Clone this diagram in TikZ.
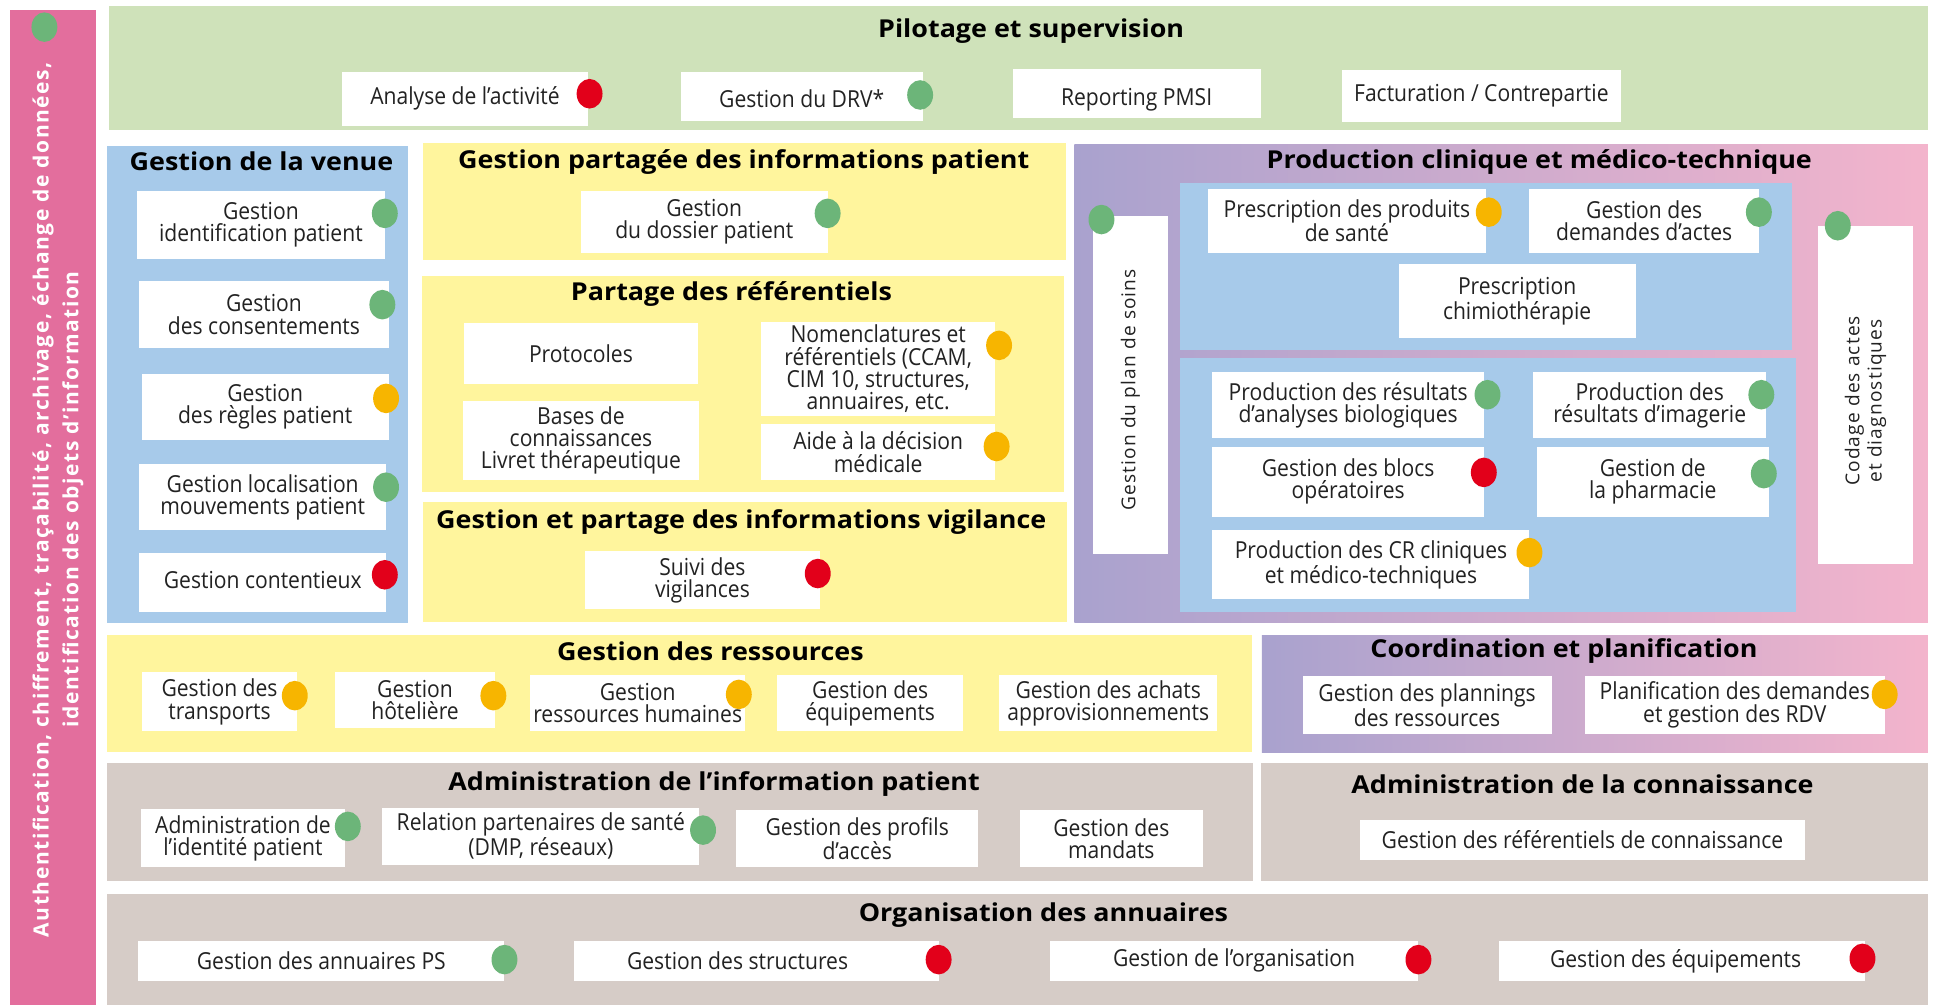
\documentclass[tikz,border=0pt]{standalone}
\usepackage{fontspec}
\usetikzlibrary{shapes.geometric}
\newfontfamily\bodyfont[FakeStretch=0.9]{Open Sans}
\newfontfamily\headfont[FakeStretch=1.09]{Open Sans}
\newfontfamily\sidefont[LetterSpace=6]{Open Sans}
\newfontfamily\sidefontb[LetterSpace=7.5]{Open Sans}
\definecolor{pinkbar}{HTML}{E36E9D}
\definecolor{lgreen}{HTML}{CFE2BA}
\definecolor{lblue}{HTML}{A7CAEA}
\definecolor{lyellow}{HTML}{FFF59D}
\definecolor{lgray}{HTML}{D6CCC7}
\definecolor{lav}{HTML}{A9A2CE}
\definecolor{pnk}{HTML}{F3B4CC}
\definecolor{dgreen}{HTML}{6CB579}
\definecolor{dorange}{HTML}{F7B500}
\definecolor{dred}{HTML}{E2001A}
\definecolor{txt}{HTML}{222222}
\tikzset{
  wbox/.style={fill=white, inner sep=0.5pt, align=center, text=txt,
    font=\bodyfont\fontsize{19}{18}\selectfont},
  wtext/.style={inner sep=0.5pt, align=center, text=txt,
    font=\bodyfont\fontsize{19}{18}\selectfont},
  dot/.style={ellipse, minimum width=21pt, minimum height=24pt, inner sep=0pt},
  gdot/.style={dot, fill=dgreen},
  odot/.style={dot, fill=dorange},
  rdot/.style={dot, fill=dred},
  ttl/.style={inner sep=0pt, text=black, font=\headfont\bfseries\fontsize{20}{22}\selectfont},
  vtext/.style={fill=white, inner sep=0pt, align=center, text=txt, rotate=90,
    font=\sidefont\fontsize{15.5}{18}\selectfont},
}
\newcommand\wbx[6]{%
  \pgfmathsetmacro\cx{(#2+#4)/2}\pgfmathsetmacro\cy{(#3+#5)/2}%
  \pgfmathsetmacro\ww{#4-#2}\pgfmathsetmacro\hh{#5-#3}%
  \node[wbox, minimum width=\ww pt, minimum height=\hh pt] (#1) at (\cx,\cy) {#6};}
\begin{document}
\begin{tikzpicture}[x=1pt, y=-1pt]
\useasboundingbox[fill=white] (0,0) rectangle (1568,816.5);

% left bar
\fill[pinkbar] (8,8) rectangle (78,815);
\node[rotate=90, align=center, text=white, inner sep=0pt,
  font=\sidefontb\bfseries\fontsize{17}{24}\selectfont] (auth) at (47,405)
  {Authentification, chiffrement, traçabilité, archivage, échange de données,\\identification des objets d’information};
\node[gdot] (d-auth) at (36,22) {};

% Pilotage
\fill[lgreen] (88,5) rectangle (1563,105);
\node[ttl] (t-pil) at (836,25) {Pilotage et supervision};
\wbx{analyse}{277}{58}{477}{102}{Analyse de l’activité}
\node[rdot] (d-analyse) at (478,76) {};
\wbx{drv}{552}{58}{748}{98}{}
\node[wtext] (drv-t) at ([yshift=-2pt]drv.center) {Gestion du DRV*};
\node[gdot] (d-drv) at (746,77) {};
\wbx{pmsi}{821}{56}{1022}{96}{}
\node[wtext] (pmsi-t) at ([yshift=-5pt]pmsi.center) {Reporting PMSI};
\wbx{fact}{1088}{57}{1314}{99}{Facturation / Contrepartie}

% Gestion de la venue
\fill[lblue] (87,118) rectangle (331,505);
\node[ttl] (t-venue) at (212,131) {Gestion de la venue};
\wbx{ident}{111}{155}{312}{210}{Gestion\\identification patient}
\node[gdot] (d-ident) at (312,173) {};
\wbx{consent}{113}{228}{315}{282}{Gestion\\des consentements}
\node[gdot] (d-consent) at (310,247) {};
\wbx{regles}{115}{303}{315}{357}{Gestion\\des règles patient}
\node[odot] (d-regles) at (313,323) {};
\wbx{local}{113}{376}{313}{430}{Gestion localisation\\mouvements patient}
\node[gdot] (d-local) at (313,395) {};
\wbx{content}{113}{448}{313}{496}{}
\node[wtext] (content-t) at ([yshift=2pt]content.center) {Gestion contentieux};
\node[rdot] (d-content) at (312,466) {};

% Gestion partagee
\fill[lyellow] (343,116) rectangle (864,211);
\node[ttl] (t-partagee) at (603,131) {Gestion partagée des informations patient};
\wbx{dossier}{471}{155}{671}{205}{Gestion\\du dossier patient}
\node[gdot] (d-dossier) at (671,173) {};

% Partage des referentiels
\fill[lyellow] (342,224) rectangle (863,399);
\node[ttl] (t-ref) at (593,238) {Partage des référentiels};
\wbx{proto}{376}{262}{566}{311}{Protocoles}
\wbx{bases}{375}{325}{567}{389}{Bases de\\connaissances\\Livret thérapeutique}
\wbx{nomen}{617}{261}{807}{337}{Nomenclatures et\\référentiels (CCAM,\\CIM 10, structures,\\annuaires, etc.}
\node[odot] (d-nomen) at (810,280) {};
\wbx{aide}{617}{344}{807}{389}{Aide à la décision\\médicale}
\node[odot] (d-aide) at (808,362) {};

% Vigilance
\fill[lyellow] (343,407) rectangle (865,504);
\node[ttl] (t-vigil) at (601,423) {Gestion et partage des informations vigilance};
\wbx{suivi}{474}{447}{665}{494}{Suivi des\\vigilances}
\node[rdot] (d-suivi) at (663,465) {};

% Production clinique
\shade[left color=lav, right color=pnk] (871,117) rectangle (1563,505);
\node[ttl] (t-prod) at (1248,131) {Production clinique et médico-technique};
\node[vtext, minimum width=274pt, minimum height=61pt] (plan) at (916.5,312) {\hspace*{-8pt}Gestion du plan de soins};
\node[gdot] (d-plan) at (893,178) {};
\fill[lblue] (957,148) rectangle (1453,284);
\fill[lblue] (957,290) rectangle (1456,496);
\wbx{presc}{979}{153}{1205}{205}{Prescription des produits\\de santé}
\node[odot] (d-presc) at (1207,172) {};
\wbx{demandes}{1240}{153}{1426}{205}{Gestion des\\demandes d’actes}
\node[gdot] (d-demandes) at (1426,172) {};
\wbx{chimio}{1134}{214}{1326}{274}{Prescription\\chimiothérapie}
\wbx{bio}{983}{302}{1203}{355}{Production des résultats\\d’analyses biologiques}
\node[gdot] (d-bio) at (1206,320) {};
\wbx{imag}{1243}{302}{1432}{355}{Production des\\résultats d’imagerie}
\node[gdot] (d-imag) at (1428,320) {};
\wbx{blocs}{983}{362}{1203}{419}{Gestion des blocs\\opératoires}
\node[rdot] (d-blocs) at (1203,383) {};
\wbx{pharma}{1246}{362}{1434}{419}{Gestion de\\la pharmacie}
\node[gdot] (d-pharma) at (1430,384) {};
\wbx{cr}{983}{430}{1240}{486}{Production des CR cliniques\\et médico-techniques}
\node[odot] (d-cr) at (1240,448) {};
\node[vtext, minimum width=274pt, minimum height=77pt] (codage) at (1512.5,320) {\hspace*{-10pt}Codage des actes\\\hspace*{-10pt}et diagnostiques};
\node[gdot] (d-codage) at (1490,183) {};

% Gestion des ressources
\fill[lyellow] (87,515) rectangle (1015,610);
\node[ttl] (t-res) at (576,528) {Gestion des ressources};
\wbx{transp}{115}{545}{241}{593}{Gestion des\\transports}
\node[odot] (d-transp) at (239,564) {};
\wbx{hotel}{272}{545}{401}{590}{Gestion\\hôtelière}
\node[odot] (d-hotel) at (400,564) {};
\wbx{rh}{430}{547}{604}{593}{Gestion\\ressources humaines}
\node[odot] (d-rh) at (599,563) {};
\wbx{equip}{630}{547}{781}{593}{Gestion des\\équipements}
\wbx{achats}{810}{547}{987}{593}{Gestion des achats\\approvisionnements}

% Coordination
\shade[left color=lav, right color=pnk] (1023,515) rectangle (1563,610);
\node[ttl] (t-coord) at (1268,528) {Coordination et planification};
\wbx{plannings}{1056}{548}{1258}{595}{Gestion des plannings\\des ressources}
\wbx{rdv}{1285}{548}{1528}{595}{Planification des demandes\\et gestion des RDV}
\node[odot] (d-rdv) at (1528,563) {};

% Administration info patient
\fill[lgray] (87,619) rectangle (1016,714);
\node[ttl] (t-adm) at (579,636) {Administration de l’information patient};
\wbx{identite}{114}{656}{280}{703}{Administration de\\l’identité patient}
\node[gdot] (d-identite) at (282,670) {};
\wbx{partn}{310}{655}{567}{701}{Relation partenaires de santé\\(DMP, réseaux)}
\node[gdot] (d-partn) at (570,673) {};
\wbx{profils}{597}{657}{793}{703}{Gestion des profils\\d’accès}
\wbx{mandats}{827}{657}{975}{703}{Gestion des\\mandats}

% Administration connaissance
\fill[lgray] (1022,619) rectangle (1563,714);
\node[ttl] (t-conn) at (1283,636) {Administration de la connaissance};
\wbx{refconn}{1103}{665}{1463}{697}{Gestion des référentiels de connaissance}

% Organisation des annuaires
\fill[lgray] (87,725) rectangle (1563,815);
\node[ttl] (t-ann) at (846,742) {Organisation des annuaires};
\wbx{annps}{112}{763}{409}{795}{Gestion des annuaires PS}
\node[gdot] (d-annps) at (409,778) {};
\wbx{struct}{465}{763}{761}{795}{\hspace*{-30pt}Gestion des structures}
\node[rdot] (d-struct) at (761,778) {};
\wbx{orga}{851}{763}{1150}{795}{Gestion de l’organisation}
\node[rdot] (d-orga) at (1150,778) {};
\wbx{equip2}{1215}{763}{1512}{795}{\hspace*{-10pt}Gestion des équipements}
\node[rdot] (d-equip2) at (1510,777) {};
\end{tikzpicture}
\end{document}
